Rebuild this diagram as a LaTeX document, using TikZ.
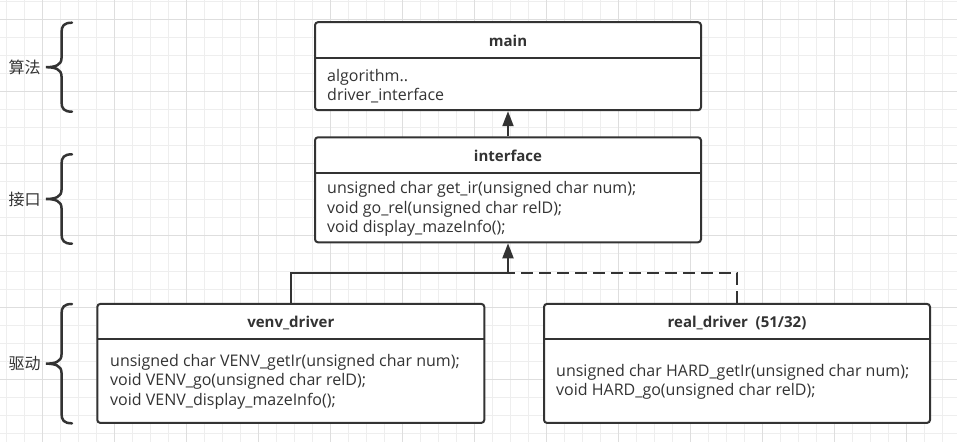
\documentclass[tikz,border=0pt]{standalone}
\usepackage{fontspec}
\setmainfont{Open Sans}
\newfontfamily\cjkfont{Noto Sans CJK SC}
\usetikzlibrary{arrows.meta,positioning}
\definecolor{linegrey}{RGB}{51,51,51}
\definecolor{textgrey}{RGB}{51,51,51}
\definecolor{gridminor}{RGB}{238,238,238}
\definecolor{gridmajor}{RGB}{222,222,222}
\tikzset{
  umlbox/.style={draw=linegrey,line width=2pt,rounded corners=3pt,
    fill=white,inner sep=0pt},
  umltitle/.style={font=\fontsize{15}{17}\selectfont\bfseries,
    text=textgrey,inner sep=0pt},
  umlbody/.style={font=\fontsize{16}{19.5}\selectfont,text=textgrey,
    align=left,anchor=west,inner sep=0pt},
  divider/.style={draw=linegrey,line width=2pt},
  inherit/.style={draw=linegrey,line width=2pt,
    -{Triangle[length=15pt,width=11pt]}},
  realize/.style={draw=linegrey,line width=2pt,dash pattern=on 12pt off 6pt},
  bracestroke/.style={draw=linegrey,line width=2.5pt,line cap=round},
  layerlabel/.style={font=\cjkfont\fontsize{16}{18}\selectfont,
    text=textgrey,inner sep=0pt},
  minorline/.style={draw=gridminor,line width=1pt},
  majorline/.style={draw=gridmajor,line width=1pt}
}

\begin{document}
\begin{tikzpicture}[x=1pt,y=-1pt]
  \useasboundingbox (0,0) rectangle (957,442);
  % background grid
  \fill[white] (0,0) rectangle (957,442);
  \foreach \x in {6.5,24.5,...,957} \draw[minorline] (\x,0) -- (\x,442);
  \foreach \y in {1.3,19.3,...,442} \draw[minorline] (0,\y) -- (957,\y);
  \foreach \x in {42.5,114.5,...,957} \draw[majorline] (\x,0) -- (\x,442);
  \foreach \y in {19.3,91.3,...,442} \draw[majorline] (0,\y) -- (957,\y);

  % layer braces
  \foreach \t/\b/\name/\txt in {22.7/111.7/algo/算法,154.3/243.7/iface/接口,
      304/423.3/drv/驱动} {
    \pgfmathsetmacro{\m}{(\t+\b)/2}
    \draw[bracestroke] (72,\t) .. controls (64,\t) and (61.5,\t+3) .. (61.5,\t+10)
      -- (61.5,\m-9) .. controls (61.5,\m-2) and (55,\m) .. (46,\m)
      .. controls (55,\m) and (61.5,\m+2) .. (61.5,\m+9)
      -- (61.5,\b-10) .. controls (61.5,\b-3) and (64,\b) .. (72,\b);
    \node[layerlabel] (\name) at (24.7,\m) {\txt};
  }

  % main
  \node[umlbox,minimum width=386pt,minimum height=88pt] (main) at (508,66.2) {};
  \node[umltitle] (main-title) at (508,40.7) {main};
  \draw[divider] (315,57.7) -- (701,57.7);
  \node[umlbody] (main-body) at (327,86) {algorithm..\\driver\_interface};

  % interface
  \node[umlbox,minimum width=386pt,minimum height=105pt] (interface) at (508,189.8) {};
  \node[umltitle] (interface-title) at (508,155.7) {interface};
  \draw[divider] (315,173.3) -- (701,173.3);
  \node[umlbody] (interface-body) at (327,209.3)
    {unsigned char get\_ir(unsigned char num);\\void go\_rel(unsigned char relD);\\void display\_mazeInfo();};

  % venv driver
  \node[umlbox,minimum width=387pt,minimum height=119pt] (venv) at (290.8,363.4) {};
  \node[umltitle] (venv-title) at (290.8,322.7) {venv\_driver};
  \draw[divider] (97.3,339.3) -- (484.3,339.3);
  \node[umlbody] (venv-body) at (110,381.7)
    {unsigned char VENV\_getIr(unsigned char num);\\void VENV\_go(unsigned char relD);\\void VENV\_display\_mazeInfo();};

  % real driver
  \node[umlbox,minimum width=386pt,minimum height=119pt] (real) at (737,363.4) {};
  \node[umltitle] (real-title) at (737,322.7) {real\_driver\ \ (51/32)};
  \draw[divider] (544,339.3) -- (930,339.3);
  \node[umlbody] (real-body) at (556,381.7)
    {unsigned char HARD\_getIr(unsigned char num);\\void HARD\_go(unsigned char relD);};

  % connectors
  \coordinate (join) at (508,273.3);
  \draw[inherit] (interface) -- (main);
  \draw[realize] (real.north) |- (join);
  \draw[inherit] (venv.north) |- (join) -- (interface.south);
\end{tikzpicture}
\end{document}
